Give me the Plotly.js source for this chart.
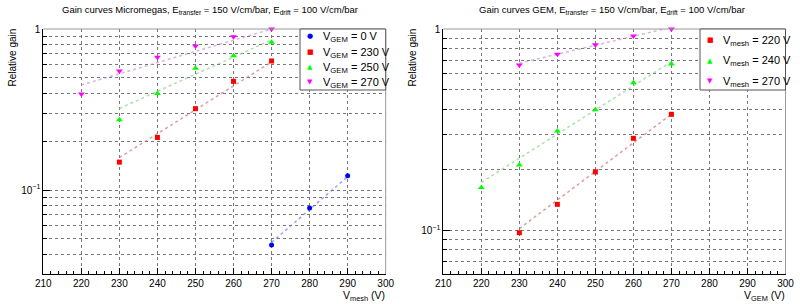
<!DOCTYPE html>
<html>
<head>
<meta charset="utf-8">
<script src="https://cdn.plot.ly/plotly-3.0.1.min.js"></script>
<style>html,body{margin:0;padding:0;background:#fff;}#chart{width:800px;height:304px;}</style>
</head>
<body>
<div id="chart"></div>
<script>
// ---------- Data: left panel (Micromegas gain vs V_mesh) ----------
const xTicks = [210, 220, 230, 240, 250, 260, 270, 280, 290, 300];
const yMajorVals = [0.1, 1];
const yMajorText = ['10<sup>\u22121</sup>', '1'];
const yMinorVals = [0.03, 0.04, 0.05, 0.06, 0.07, 0.08, 0.09, 0.2, 0.3, 0.4, 0.5, 0.6, 0.7, 0.8, 0.9];

const leftNames = ['V<sub>GEM</sub> = 0 V', 'V<sub>GEM</sub> = 230 V', 'V<sub>GEM</sub> = 250 V', 'V<sub>GEM</sub> = 270 V'];
const gem0X = [270, 280, 290];
const gem0Y = [0.0455, 0.0773, 0.1227];
const gem230X = [230, 240, 250, 260, 270];
const gem230Y = [0.149, 0.212, 0.320, 0.473, 0.633];
const gem250X = [230, 240, 250, 260, 270];
const gem250Y = [0.273, 0.398, 0.570, 0.683, 0.826];
const gem270X = [220, 230, 240, 250, 260, 270];
const gem270Y = [0.395, 0.548, 0.667, 0.784, 0.896, 1.0];
// fitted curves (end points)
const fitGem0X = [270, 290];   const fitGem0Y = [0.0473, 0.121];
const fitGem230X = [230, 270]; const fitGem230Y = [0.159, 0.624];
const fitGem250X = [230, 270]; const fitGem250Y = [0.321, 0.855];
const fitGem270X = [220, 270]; const fitGem270Y = [0.449, 1.0];

// ---------- Data: right panel (GEM gain vs V_GEM) ----------
const rightNames = ['V<sub>mesh</sub> = 220 V', 'V<sub>mesh</sub> = 240 V', 'V<sub>mesh</sub> = 270 V'];
const mesh220X = [230, 240, 250, 260, 270];
const mesh220Y = [0.0973, 0.1346, 0.1949, 0.2864, 0.377];
const mesh240X = [220, 230, 240, 250, 260, 270];
const mesh240Y = [0.163, 0.211, 0.311, 0.397, 0.541, 0.670];
const mesh270X = [230, 240, 250, 260, 270];
const mesh270Y = [0.663, 0.749, 0.836, 0.923, 1.0];
const fitMesh220X = [230, 270]; const fitMesh220Y = [0.102, 0.377];
const fitMesh240X = [220, 270]; const fitMesh240Y = [0.173, 0.688];
const fitMesh270X = [230, 270]; const fitMesh270Y = [0.676, 1.02];

// ---------- styling ----------
const FONT = 'Liberation Sans, Arial, Helvetica, sans-serif';
const W = 800, H = 304;
const px = v => v / W;
const py = v => 1 - v / H;

const BLUE = '#0000ff', RED = '#ff0000', GREEN = '#00ff00', MAGENTA = '#ff00ff';
const leftColors = [BLUE, RED, GREEN, MAGENTA];
const leftGlyphs = ['\u25CF', '\u25A0', '\u25B2', '\u25BC'];
const rightColors = [RED, GREEN, MAGENTA];
const rightGlyphs = ['\u25A0', '\u25B2', '\u25BC'];

function pts(x, y, name, color, symbol, size, xa, ya) {
  return {x: x, y: y, name: name, type: 'scatter', mode: 'markers', xaxis: xa, yaxis: ya,
    showlegend: false, marker: {color: color, symbol: symbol, size: size, line: {width: 0}}, cliponaxis: false};
}
function fit(x, y, color, xa, ya) {
  return {x: x, y: y, type: 'scatter', mode: 'lines', xaxis: xa, yaxis: ya, showlegend: false,
    hoverinfo: 'skip', line: {color: color, width: 1.5, dash: 'dot'}};
}

const data = [
  fit(fitGem0X, fitGem0Y, 'rgba(120,120,230,0.7)', 'x', 'y'),
  fit(fitGem230X, fitGem230Y, 'rgba(200,120,120,0.7)', 'x', 'y'),
  fit(fitGem250X, fitGem250Y, 'rgba(130,215,130,0.7)', 'x', 'y'),
  fit(fitGem270X, fitGem270Y, 'rgba(200,150,210,0.7)', 'x', 'y'),
  pts(gem0X, gem0Y, leftNames[0], BLUE, 'circle', 5, 'x', 'y'),
  pts(gem230X, gem230Y, leftNames[1], RED, 'square', 5, 'x', 'y'),
  pts(gem250X, gem250Y, leftNames[2], GREEN, 'triangle-up', 6, 'x', 'y'),
  pts(gem270X, gem270Y, leftNames[3], MAGENTA, 'triangle-down', 6, 'x', 'y'),

  fit(fitMesh220X, fitMesh220Y, 'rgba(200,120,120,0.7)', 'x2', 'y2'),
  fit(fitMesh240X, fitMesh240Y, 'rgba(130,215,130,0.7)', 'x2', 'y2'),
  fit(fitMesh270X, fitMesh270Y, 'rgba(200,150,210,0.7)', 'x2', 'y2'),
  pts(mesh220X, mesh220Y, rightNames[0], RED, 'square', 5, 'x2', 'y2'),
  pts(mesh240X, mesh240Y, rightNames[1], GREEN, 'triangle-up', 6, 'x2', 'y2'),
  pts(mesh270X, mesh270Y, rightNames[2], MAGENTA, 'triangle-down', 6, 'x2', 'y2')
];

function xaxis(domain, anchor) {
  return {domain: domain, anchor: anchor, range: [210, 300], tickmode: 'array', tickvals: xTicks,
    ticks: 'inside', ticklen: 6, tickcolor: '#000', showline: true, linecolor: '#000', linewidth: 1,
    showgrid: true, gridcolor: '#777', griddash: 'dot', gridwidth: 1, zeroline: false,
    tickfont: {family: FONT, size: 10, color: '#000'},
    minor: {dtick: 2, ticks: 'inside', ticklen: 3, tickcolor: '#000', showgrid: false}};
}
function yaxis(domain, anchor, lo) {
  return {domain: domain, anchor: anchor, type: 'log', range: [lo, 0], tickmode: 'array',
    tickvals: yMajorVals, ticktext: yMajorText, ticks: 'inside', ticklen: 7, tickcolor: '#000',
    showline: true, linecolor: '#000', linewidth: 1, zeroline: false,
    showgrid: true, gridcolor: '#777', griddash: 'dot', gridwidth: 1,
    tickfont: {family: FONT, size: 10, color: '#000'},
    minor: {tickmode: 'array', tickvals: yMinorVals, ticks: 'inside', ticklen: 4, tickcolor: '#000',
      showgrid: true, gridcolor: '#777', griddash: 'dot', gridwidth: 1}};
}

const yDom = [py(274), py(29)];

const shapes = [
  {type: 'line', xref: 'x domain', yref: 'y domain', x0: 0, x1: 1, y0: 1, y1: 1, line: {color: '#999', width: 1}},
  {type: 'line', xref: 'x domain', yref: 'y domain', x0: 1, x1: 1, y0: 0, y1: 1, line: {color: '#999', width: 1}},
  {type: 'line', xref: 'x2 domain', yref: 'y2 domain', x0: 0, x1: 1, y0: 1, y1: 1, line: {color: '#999', width: 1}},
  {type: 'line', xref: 'x2 domain', yref: 'y2 domain', x0: 1, x1: 1, y0: 0, y1: 1, line: {color: '#999', width: 1}}
];
const annotations = [
  {text: 'Gain curves Micromegas, E<sub>transfer</sub> = 150 V/cm/bar, E<sub>drift</sub> = 100 V/cm/bar',
   xref: 'paper', yref: 'paper', x: px(210), y: py(10), xanchor: 'center', yanchor: 'middle',
   showarrow: false, font: {family: FONT, size: 9.5, color: '#000'}},
  {text: 'Gain curves GEM, E<sub>transfer</sub> = 150 V/cm/bar, E<sub>drift</sub> = 100 V/cm/bar',
   xref: 'paper', yref: 'paper', x: px(611.5), y: py(10), xanchor: 'center', yanchor: 'middle',
   showarrow: false, font: {family: FONT, size: 9.5, color: '#000'}},
  {text: 'Relative gain', xref: 'paper', yref: 'paper', x: px(12), y: py(57.5), textangle: -90,
   xanchor: 'center', yanchor: 'middle', showarrow: false, font: {family: FONT, size: 10, color: '#000'}},
  {text: 'Relative gain', xref: 'paper', yref: 'paper', x: px(412), y: py(57.5), textangle: -90,
   xanchor: 'center', yanchor: 'middle', showarrow: false, font: {family: FONT, size: 10, color: '#000'}},
  {text: 'V<sub>mesh</sub> (V)', xref: 'paper', yref: 'paper', x: px(386), y: py(304), xanchor: 'right',
   yanchor: 'bottom', borderpad: 0, showarrow: false, font: {family: FONT, size: 10.5, color: '#000'}},
  {text: 'V<sub>GEM</sub> (V)', xref: 'paper', yref: 'paper', x: px(786), y: py(304), xanchor: 'right',
   yanchor: 'bottom', borderpad: 0, showarrow: false, font: {family: FONT, size: 10.5, color: '#000'}}
];

// legend boxes (drawn like the ROOT TLegend)
function addLegend(x0, x1, y0, y1, names, colors, glyphs, rowTop, rowStep) {
  shapes.push({type: 'rect', xref: 'paper', yref: 'paper', x0: px(x0), x1: px(x1), y0: py(y1), y1: py(y0),
    fillcolor: '#fff', line: {color: '#555', width: 1}, layer: 'above'});
  names.forEach((n, i) => {
    const yc = rowTop + rowStep * i;
    annotations.push({text: glyphs[i], xref: 'paper', yref: 'paper', x: px(x0 + 10), y: py(yc),
      xanchor: 'center', yanchor: 'middle', showarrow: false,
      font: {family: 'DejaVu Sans', size: 7, color: colors[i]}});
    annotations.push({text: n, xref: 'paper', yref: 'paper', x: px(x0 + 21), y: py(yc + 1),
      xanchor: 'left', yanchor: 'middle', showarrow: false,
      font: {family: FONT, size: 11, color: '#000'}});
  });
}
addLegend(300, 385.7, 29, 90, leftNames, leftColors, leftGlyphs, 36.5, 15.2);
addLegend(700, 785.5, 29, 90, rightNames, rightColors, rightGlyphs, 40, 20.5);

const layout = {
  width: W, height: H, margin: {l: 0, r: 0, t: 0, b: 0},
  paper_bgcolor: '#fff', plot_bgcolor: '#fff', showlegend: false,
  xaxis: xaxis([px(43.3), px(385.7)], 'y'),
  yaxis: yaxis(yDom, 'x', -1.5217),
  xaxis2: xaxis([px(443.3), px(785.5)], 'y2'),
  yaxis2: yaxis(yDom, 'x2', -1.217),
  shapes: shapes,
  annotations: annotations
};

Plotly.newPlot('chart', data, layout, {staticPlot: true, displayModeBar: false});
</script>
</body>
</html>
